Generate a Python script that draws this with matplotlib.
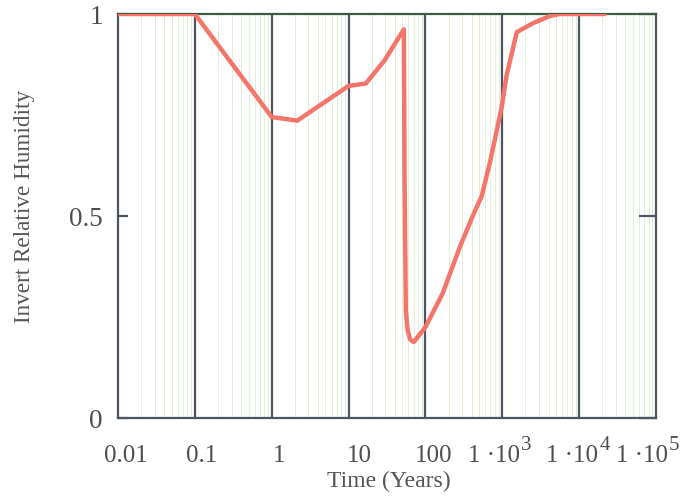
import numpy as np
import matplotlib
matplotlib.use("Agg")
import matplotlib.pyplot as plt
from matplotlib.transforms import blended_transform_factory

# ---- data ----
time_years = [0.01, 0.1, 1.0, 2.15, 10.0, 16.8, 29.6, 52.4, 53.5, 55.6, 58.6,
              63.0, 70.6, 100.0, 168, 280, 413, 541, 687, 798, 984, 1143,
              1545, 2497, 4150, 5600, 21500]
inv_rh = [1.0, 1.0, 0.745, 0.736, 0.822, 0.828, 0.886, 0.962, 0.60, 0.267, 0.218,
          0.195, 0.188, 0.225, 0.309, 0.423, 0.500, 0.550, 0.631, 0.688, 0.770, 0.850,
          0.955, 0.977, 0.995, 1.0, 1.0]

x_major = [0.01, 0.1, 1, 10, 100, 1e3, 1e4, 1e5]
x_tick_base = ["0.01", "0.1", "1", "10", "100", "1 ·10", "1 ·10", "1 ·10"]
x_tick_exp = ["", "", "", "", "", "3", "4", "5"]
# label centres as drawn in the original (axes fraction)
x_label_pos = [0.0149, 0.156, 0.299, 0.449, 0.586, 0.710, 0.855, 0.985]
y_ticks = [0, 0.5, 1]
y_tick_labels = ["0", "0.5", "1"]

plt.rcParams['font.family'] = ['Liberation Serif', 'DejaVu Serif']

W, H = 686, 496
fig = plt.figure(figsize=(W / 100, H / 100), dpi=100)
ax = fig.add_axes([118 / W, 1 - 418 / H, (656 - 118) / W, (418 - 14) / H])

ax.set_xscale('log')
ax.set_xlim(0.01, 1e5)
ax.set_ylim(0, 1)

grid_dark = '#4e5462'
minor_col = '#e2efd6'

# minor grid (light green)
minors = [m * d for d in x_major[:-1] for m in range(2, 10)]
for m in minors:
    ax.axvline(m, color=minor_col, lw=0.7, zorder=1)
# major grid (dark)
for d in x_major[1:-1]:
    ax.axvline(d, color=grid_dark, lw=1.6, zorder=2)

ax.plot(time_years, inv_rh, color='#f4756a', lw=3.2, zorder=3,
        solid_joinstyle='round', solid_capstyle='round')

for s in ['left', 'right', 'bottom']:
    ax.spines[s].set_color(grid_dark)
    ax.spines[s].set_linewidth(1.6)
ax.spines['top'].set_color('#3f5a44')
ax.spines['top'].set_linewidth(1.6)

ax.set_xticks(x_major)
ax.set_xticklabels([])
ax.xaxis.set_minor_locator(matplotlib.ticker.NullLocator())
ax.tick_params(axis='x', length=0)

ax.set_yticks(y_ticks)
ax.set_yticklabels(y_tick_labels, fontsize=19.5, color='#4f4f4f')
ax.tick_params(axis='y', direction='in', left=True, right=True, length=7,
               width=1.6, color=grid_dark, pad=11)
for t in ax.yaxis.get_major_ticks():
    t.tick2line.set_markersize(12)

renderer = fig.canvas.get_renderer()
trans = blended_transform_factory(ax.transAxes, fig.transFigure)
ybase = 1 - 456 / H
for xp, base, ex in zip(x_label_pos, x_tick_base, x_tick_exp):
    if not ex:
        ax.text(xp, ybase, base, transform=trans, ha='center', va='center',
                fontsize=18, color='#4f4f4f')
        continue
    # measure widths to centre base+exponent together
    tb = ax.text(0, 0, base, fontsize=18)
    te = ax.text(0, 0, ex, fontsize=15)
    wb = tb.get_window_extent(renderer).width
    we = te.get_window_extent(renderer).width
    tb.remove(); te.remove()
    total = wb + we + 1
    cx = ax.transAxes.transform((xp, 0))[0]
    left_px = cx - total / 2
    yb_px = ybase * H
    fig.text(left_px / W, ybase, base, ha='left', va='center',
             fontsize=18, color='#4f4f4f')
    fig.text((left_px + wb + 1) / W, (yb_px + 10) / H, ex, ha='left', va='center',
             fontsize=15, color='#4f4f4f')

fig.text(389 / W, 1 - 481 / H, "Time (Years)", ha='center', va='center',
         fontsize=17, color='#555555')
fig.text(25 / W, 1 - 206 / H, "Invert Relative Humidity", ha='center', va='center',
         rotation=90, fontsize=16.7, color='#555555')

fig.savefig('out.png', dpi=100)
